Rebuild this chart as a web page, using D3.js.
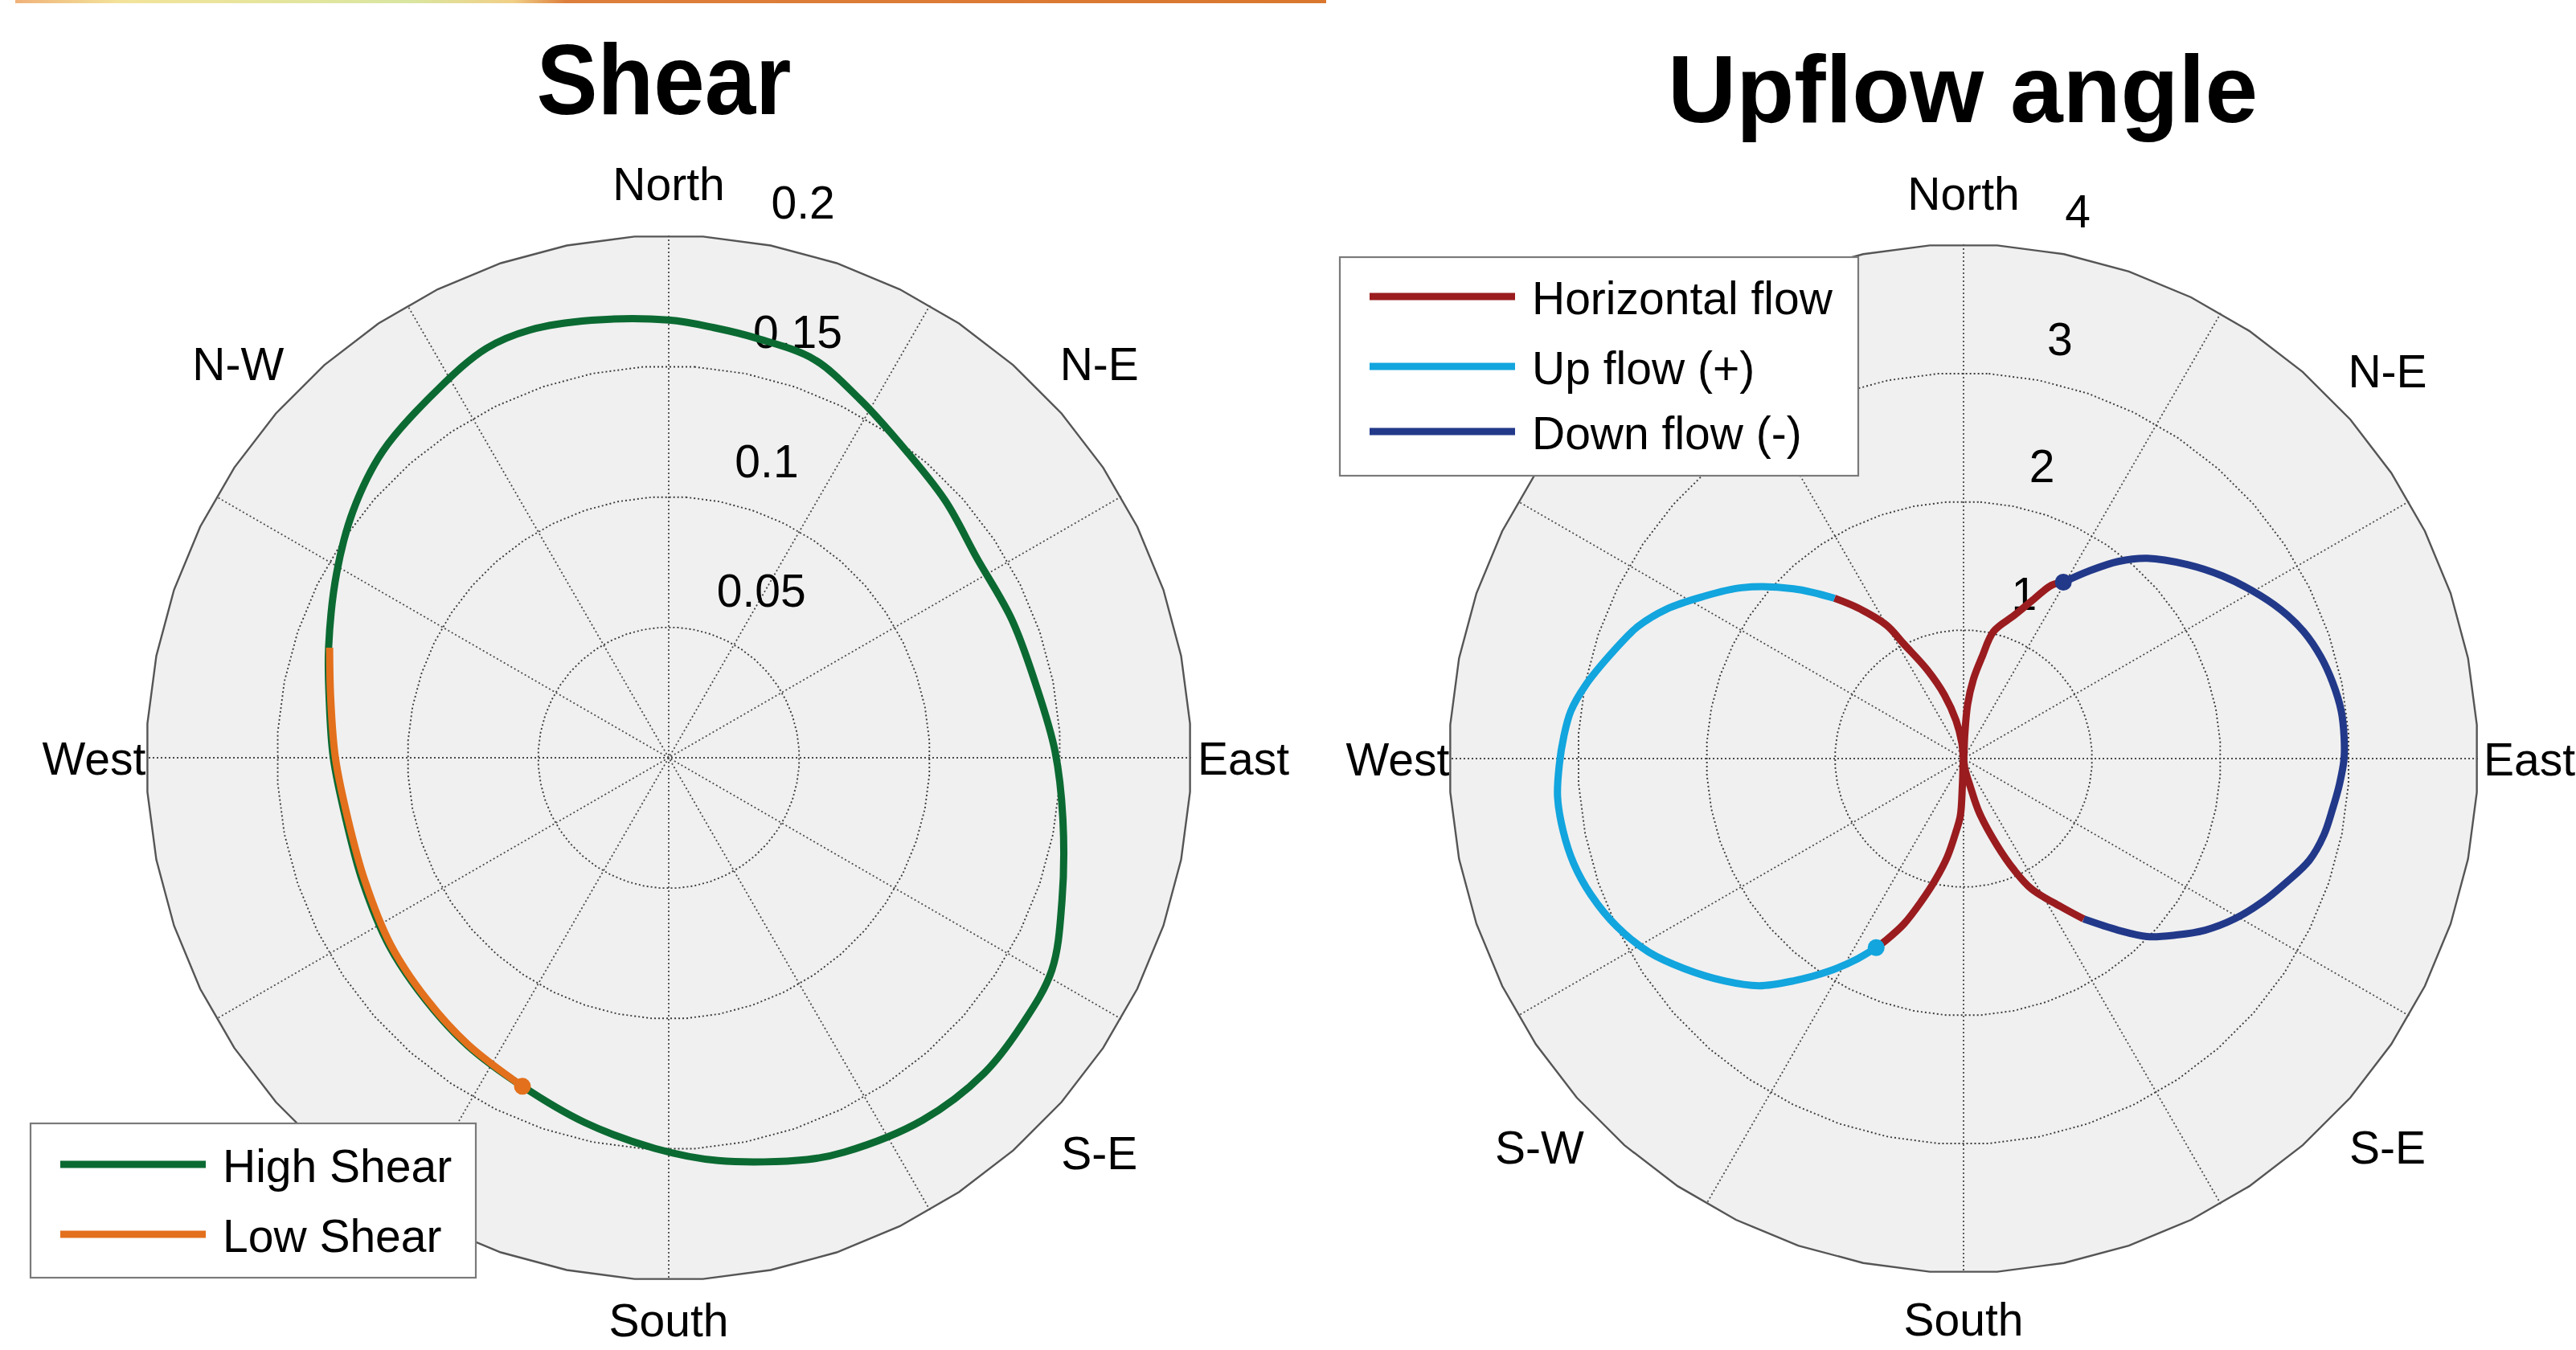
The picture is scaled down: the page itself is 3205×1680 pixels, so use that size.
<!DOCTYPE html>
<html>
<head>
<meta charset="utf-8">
<script src="https://cdn.jsdelivr.net/npm/d3@7"></script>
<style>
  html, body { margin: 0; padding: 0; background: #ffffff; }
  text { font-family: "Liberation Sans", Arial, Helvetica, sans-serif; fill: #000; }
</style>
</head>
<body>
<svg id="chart" width="3205" height="1680"></svg>
<script>
// ---------- data ----------
// Compass labels, bearings in degrees clockwise from north
const compassLabels   = ["North", "N-E", "East", "S-E", "South", "S-W", "West", "N-W"];
const compassBearings = [0, 47.5, 90, 132.5, 180, 227.5, 270, 312.5];

// Shear panel
const shearTicks = [0.05, 0.1, 0.15, 0.2];
const shearTickLabels = ["0.05", "0.1", "0.15", "0.2"];
const highShearBearing = [0, 6, 12, 20, 28, 36, 47, 57, 68, 79, 89, 99, 110, 119, 127, 135, 145, 156, 161, 173,
                          182, 193, 204, 215, 225, 236, 248, 259, 270, 280, 288, 299, 308, 317, 328, 336, 342, 350];
const highShearValue   = [0.1676, 0.1656, 0.1641, 0.1624, 0.1556, 0.1496, 0.1446, 0.1406, 0.1416, 0.1434,
                          0.1479, 0.1528, 0.1602, 0.1677, 0.1695, 0.1708, 0.1694, 0.1653, 0.1627, 0.1554,
                          0.1497, 0.1433, 0.1377, 0.1344, 0.1314, 0.1290, 0.1264, 0.1258, 0.1284, 0.1320,
                          0.1369, 0.1454, 0.1534, 0.1605, 0.1665, 0.1716, 0.1722, 0.1701];
const lowShearBearing  = [288, 280, 270, 259, 248, 236, 225, 215, 204];
const lowShearValue    = [0.1365, 0.1314, 0.1276, 0.1250, 0.1255, 0.1283, 0.1309, 0.1340, 0.1377];

// Upflow angle panel
const upflowTicks = [1, 2, 3, 4];
const upflowTickLabels = ["1", "2", "3", "4"];
const downFlowBearing = [29.5, 33.8, 38.1, 42.5, 49.1, 54.8, 59.7, 64.8, 69.5, 74.1, 78.3, 82.8, 86.7, 90,
                         93.9, 97.8, 102.0, 106.4, 111.0, 115.5, 120.7, 125.4, 129.7, 134.1, 138.0, 143.2];
const downFlowValue   = [1.576, 1.756, 1.948, 2.113, 2.304, 2.464, 2.594, 2.724, 2.823, 2.889, 2.930, 2.960, 2.964, 2.959,
                         2.930, 2.896, 2.864, 2.803, 2.688, 2.581, 2.446, 2.304, 2.148, 1.989, 1.796, 1.558];
const upFlowBearing   = [204.8, 207.9, 212.4, 217.4, 222.0, 227.1, 233.1, 238.4, 244.1, 249.9, 254.9, 259.7,
                         264.6, 269.1, 273.2, 276.9, 280.9, 286.6, 292.0, 296.7, 301.6, 307.6, 315.0, 321.2];
const upFlowValue     = [1.620, 1.762, 1.960, 2.176, 2.377, 2.540, 2.719, 2.873, 2.995, 3.085, 3.139, 3.164,
                         3.171, 3.144, 3.113, 3.076, 2.996, 2.858, 2.735, 2.586, 2.396, 2.178, 1.868, 1.600];
// Horizontal flow: the two arms passing through the origin
const horizNorthBearing = [321.2, 324.9, 330.0, 332.5, 337.7, 343.3, 348.8, 353.7, 0, 2.9, 4.3, 7.1, 10.3, 13.3, 19.4, 23.3, 26.9, 29.5];
const horizNorthValue   = [1.600, 1.434, 1.198, 1.003, 0.748, 0.516, 0.302, 0.124, 0, 0.173, 0.421, 0.623, 0.804, 1.016, 1.179, 1.332, 1.511, 1.576];
const horizSouthBearing = [143.2, 146.8, 152.5, 155.6, 159.0, 163.8, 166.4, 173, 180, 182.5, 183.2, 185.9, 189.4, 193.0, 196.5, 199.8, 203.0, 204.8];
const horizSouthValue   = [1.558, 1.374, 1.142, 0.950, 0.715, 0.437, 0.229, 0.075, 0, 0.198, 0.445, 0.571, 0.776, 0.964, 1.160, 1.366, 1.531, 1.620];

// ---------- styles ----------
const colors = {
  high: "#0b6a32", low: "#e3701c",
  horiz: "#9a1c1f", up: "#12a5de", down: "#22398a"
};
const FONT = 57;
const LINE_W = 9;

const svg = d3.select("#chart");
const zip = (b, v) => b.map((d, i) => ({ b: d, v: v[i] }));

// faint coloured strip along the top edge
const grad = svg.append("defs").append("linearGradient").attr("id", "topstrip");
[[0, "#f0b27a"], [0.08, "#f3e39a"], [0.3, "#d9e6a0"], [0.38, "#f1cf86"], [0.42, "#dd7f3c"], [1, "#d9772e"]]
  .forEach(([o, c]) => grad.append("stop").attr("offset", o).attr("stop-color", c));
svg.append("rect").attr("x", 19).attr("y", 0).attr("width", 1631).attr("height", 4).attr("fill", "url(#topstrip)");

// ---------- polar panel ----------
function polarPanel(cfg) {
  const g = svg.append("g").attr("transform", `translate(${cfg.cx},${cfg.cy})`);
  const r = d3.scaleLinear().domain([0, cfg.max]).range([0, cfg.R]);
  const ang = d3.scaleLinear().domain([0, 360]).range([0, 2 * Math.PI]);
  const step = cfg.ticks[1] - cfg.ticks[0];

  // ring outline as a polygon over 48 bearings
  const ringBearings = d3.range(48).map(i => 3.75 + i * 7.5);
  const ring = d3.lineRadial().curve(d3.curveLinearClosed)
    .angle(d => ang(d.b)).radius(d => r(d.v));
  const ringPath = v => ring(ringBearings.map(b => ({ b, v })));

  // background disc
  g.append("path").attr("d", ringPath(cfg.max)).attr("fill", "#f0f0f0").attr("stroke", "none");

  // dotted rings
  cfg.ticks.slice(0, -1).forEach(t => {
    g.append("path").attr("d", ringPath(t)).attr("fill", "none")
      .attr("stroke", "#3c3c3c").attr("stroke-width", 1.9).attr("stroke-dasharray", "2,3");
  });

  // dotted spokes every 30 degrees
  d3.range(0, 180, 30).forEach(b => {
    const p1 = d3.pointRadial(ang(b), r(cfg.max));
    const p2 = d3.pointRadial(ang(b + 180), r(cfg.max));
    g.append("line").attr("x1", p1[0]).attr("y1", p1[1]).attr("x2", p2[0]).attr("y2", p2[1])
      .attr("stroke", "#4a4a4a").attr("stroke-width", 1.8).attr("stroke-dasharray", "2,3");
  });

  // outer ring
  g.append("path").attr("d", ringPath(cfg.max)).attr("fill", "none")
    .attr("stroke", "#555555").attr("stroke-width", 2.4);

  // radial tick labels along the 8 degree bearing
  cfg.ticks.forEach((t, i) => {
    const p = d3.pointRadial(ang(8), r(t + step / 20));
    g.append("text").attr("x", p[0] + 36).attr("y", p[1] - 19)
      .attr("font-size", FONT).text(cfg.tickLabels[i]);
  });

  // compass labels (those lying under the legend box are left out)
  compassLabels.forEach((lab, i) => {
    if (cfg.skipLabels.includes(lab)) return;
    const b = compassBearings[i];
    const k = (b % 90 === 0) ? 1.1 : 1.118;
    const p = d3.pointRadial(ang(b), r(cfg.max) * k);
    const dy = (lab === "South") ? cfg.southShift : 21;
    g.append("text").attr("x", p[0]).attr("y", p[1] + dy)
      .attr("text-anchor", "middle").attr("font-size", FONT).text(lab);
  });

  // data helpers
  const radial = closed => d3.lineRadial()
    .curve(closed ? d3.curveCatmullRomClosed.alpha(0.5) : d3.curveCatmullRom.alpha(0.5))
    .angle(d => ang(d.b)).radius(d => r(d.v));
  const drawLine = (pts, color, closed) =>
    g.append("path").attr("d", radial(closed)(pts)).attr("fill", "none")
      .attr("stroke", color).attr("stroke-width", LINE_W)
      .attr("stroke-linejoin", "round").attr("stroke-linecap", "butt");
  const drawDot = (pt, color) => {
    const p = d3.pointRadial(ang(pt.b), r(pt.v));
    g.append("circle").attr("cx", p[0]).attr("cy", p[1]).attr("r", 10.5).attr("fill", color);
  };
  return { g, drawLine, drawDot };
}

function legend(x, y, w, h, entries) {
  const g = svg.append("g").attr("transform", `translate(${x},${y})`);
  g.append("rect").attr("width", w).attr("height", h).attr("fill", "#ffffff")
    .attr("stroke", "#7a7a7a").attr("stroke-width", 2.2);
  entries.forEach(e => {
    g.append("line").attr("x1", 37).attr("x2", 218).attr("y1", e.y).attr("y2", e.y)
      .attr("stroke", e.color).attr("stroke-width", LINE_W);
    g.append("text").attr("x", 239).attr("y", e.y + 22).attr("font-size", FONT).text(e.label);
  });
}

// ---------- Shear ----------
const shear = polarPanel({ cx: 832, cy: 943, R: 650, max: 0.2, ticks: shearTicks,
                           tickLabels: shearTickLabels, skipLabels: ["S-W"], southShift: 5 });
const highPts = zip(highShearBearing, highShearValue);
const lowPts = zip(lowShearBearing, lowShearValue);
shear.drawLine(highPts, colors.high, true);
shear.drawLine(lowPts, colors.low, false);
shear.drawDot(lowPts[lowPts.length - 1], colors.low);

svg.append("text").attr("x", 826).attr("y", 142).attr("text-anchor", "middle")
  .attr("font-size", 124).attr("font-weight", "bold")
  .attr("textLength", 317).attr("lengthAdjust", "spacingAndGlyphs").text("Shear");

legend(38, 1398, 554, 192, [
  { label: "High Shear", color: colors.high, y: 51 },
  { label: "Low Shear", color: colors.low, y: 138 }
]);

// ---------- Upflow angle ----------
const upflow = polarPanel({ cx: 2443, cy: 944, R: 640, max: 4, ticks: upflowTicks,
                            tickLabels: upflowTickLabels, skipLabels: ["N-W"], southShift: 14 });
const upPts = zip(upFlowBearing, upFlowValue);
const downPts = zip(downFlowBearing, downFlowValue);
upflow.drawLine(upPts, colors.up, false);
upflow.drawLine(downPts, colors.down, false);
upflow.drawLine(zip(horizNorthBearing, horizNorthValue), colors.horiz, false);
upflow.drawLine(zip(horizSouthBearing, horizSouthValue), colors.horiz, false);
upflow.drawDot(downPts[0], colors.down);
upflow.drawDot(upPts[0], colors.up);

svg.append("text").attr("x", 2442).attr("y", 152).attr("text-anchor", "middle")
  .attr("font-size", 118).attr("font-weight", "bold")
  .attr("textLength", 734).attr("lengthAdjust", "spacingAndGlyphs").text("Upflow angle");

legend(1667, 320, 645, 272, [
  { label: "Horizontal flow", color: colors.horiz, y: 49 },
  { label: "Up flow (+)", color: colors.up, y: 136 },
  { label: "Down flow (-)", color: colors.down, y: 217 }
]);
</script>
</body>
</html>
